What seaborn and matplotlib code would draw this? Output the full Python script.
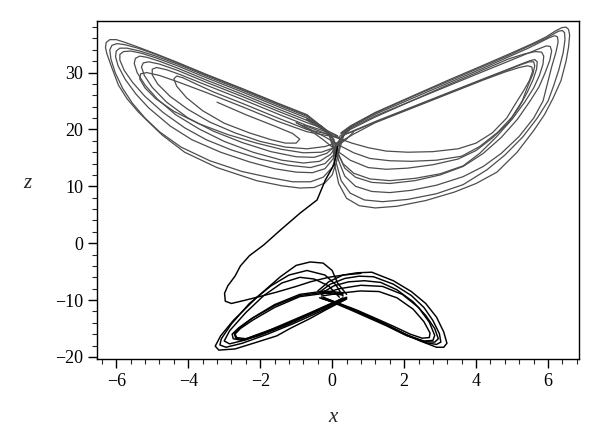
import matplotlib
matplotlib.use("Agg")
import matplotlib.pyplot as plt
import seaborn as sns
from matplotlib.ticker import MultipleLocator

# upper attractor, left wing loops (x, z)
left1_x = [-0.1, -0.35, -0.7, -1.5, -2.5, -3.5, -4.3, -4.9, -5.4, -5.75, -6.0, -6.18, -6.28, -6.3, -6.26, -6.12, -5.94, -5.7, -5.39, -5.05, -4.72, -4.1, -3.2, -2.1, -1.4, -0.9, -0.5, -0.2, 0.0, 0.12, 0.22, 0.32, 0.55]
left1_z = [19.3, 20.8, 22.6, 24.6, 27.2, 29.7, 31.8, 33.3, 34.5, 35.3, 35.8, 35.8, 35.3, 34.4, 33.3, 30.8, 27.8, 25.4, 23.1, 21.0, 19.0, 16.0, 13.3, 11.0, 10.1, 9.7, 9.8, 10.6, 12.0, 14.3, 16.8, 18.9, 20.4]
left2_x = [-0.1, -0.35, -0.7, -1.5, -2.5, -3.5, -4.3, -4.9, -5.35, -5.7, -5.9, -6.0, -6.02, -5.95, -5.75, -5.45, -5.1, -4.5, -3.9, -3.1, -2.3, -1.6, -1.0, -0.55, -0.2, 0.02, 0.15, 0.28, 0.5]
left2_z = [19.3, 20.7, 22.3, 24.3, 26.9, 29.4, 31.5, 32.9, 33.8, 34.3, 34.3, 33.8, 32.8, 31.2, 28.8, 26.2, 23.8, 20.6, 18.2, 16.0, 14.3, 13.1, 12.5, 12.4, 13.1, 14.8, 16.9, 18.8, 20.2]
left3_x = [-0.1, -0.35, -0.7, -1.5, -2.5, -3.5, -4.3, -4.9, -5.3, -5.6, -5.8, -5.9, -5.9, -5.78, -5.55, -5.2, -4.7, -4.1, -3.5, -2.8, -2.0, -1.2, -0.6, -0.2, 0.05, 0.18, 0.3, 0.5]
left3_z = [19.3, 20.5, 22.0, 24.0, 26.6, 29.1, 31.2, 32.6, 33.4, 33.8, 33.7, 33.2, 32.2, 30.4, 28.3, 25.8, 23.0, 20.3, 18.2, 16.4, 14.8, 13.7, 13.3, 14.0, 15.6, 17.4, 19.0, 20.2]
left4_x = [-0.1, -0.35, -0.7, -1.5, -2.5, -3.5, -4.3, -4.8, -5.15, -5.35, -5.47, -5.5, -5.42, -5.2, -4.85, -4.35, -3.7, -3.0, -2.2, -1.4, -0.8, -0.35, -0.05, 0.15, 0.3, 0.5]
left4_z = [19.3, 20.3, 21.6, 23.6, 26.2, 28.7, 30.8, 32.0, 32.7, 32.9, 32.5, 31.6, 30.0, 27.8, 25.3, 22.6, 20.1, 17.9, 16.0, 14.6, 14.1, 14.4, 15.6, 17.3, 19.0, 20.2]
left5_x = [0.15, -0.3, -0.7, -1.5, -2.5, -3.5, -4.3, -4.8, -5.1, -5.25, -5.3, -5.22, -5.0, -4.6, -4.0, -3.3, -2.5, -1.7, -1.0, -0.5, -0.15, 0.1, 0.28, 0.5]
left5_z = [18.9, 20.3, 21.2, 23.2, 25.8, 28.3, 30.4, 31.5, 31.9, 31.7, 31.0, 29.5, 27.4, 24.8, 22.0, 19.7, 17.7, 16.1, 15.2, 15.1, 15.8, 17.2, 18.9, 20.1]
left6_x = [0.15, -0.3, -0.7, -1.5, -2.5, -3.5, -4.2, -4.6, -4.88, -5.0, -5.0, -4.85, -4.5, -4.0, -3.4, -2.7, -2.0, -1.3, -0.7, -0.2, 0.25]
left6_z = [18.8, 19.9, 20.7, 22.7, 25.3, 27.8, 29.6, 30.5, 30.9, 30.6, 29.6, 28.0, 25.8, 23.5, 21.3, 19.4, 17.9, 16.9, 16.6, 17.0, 17.9]
left7_x = [0.2, -0.2, -0.7, -1.5, -2.5, -3.3, -3.85, -4.15, -4.32, -4.4, -4.32, -4.05, -3.6, -3.0, -2.3, -1.7, -1.3, -1.0, -0.9, -1.1, -1.6, -2.4, -3.2]
left7_z = [18.5, 19.3, 20.0, 22.0, 24.6, 26.6, 28.2, 29.1, 29.4, 28.9, 27.6, 25.6, 23.3, 21.1, 19.4, 18.2, 17.6, 17.6, 18.3, 19.3, 20.6, 22.6, 24.8]
left8_x = [-0.1, -0.35, -0.7, -1.5, -2.5, -3.5, -4.3, -4.9, -5.4, -5.75, -5.98, -6.12, -6.18, -6.15, -6.03, -5.82, -5.55, -5.2, -4.8, -4.2, -3.4, -2.5, -1.7, -1.1, -0.6, -0.25, 0.0, 0.15, 0.26, 0.5]
left8_z = [19.3, 20.8, 22.5, 24.5, 27.1, 29.6, 31.7, 33.2, 34.3, 34.9, 35.1, 34.8, 34.0, 32.4, 30.0, 27.2, 24.6, 22.0, 19.6, 16.9, 14.5, 12.6, 11.5, 10.8, 10.8, 11.6, 13.3, 15.8, 18.4, 20.3]
left9_x = [0.2, -0.2, -0.7, -1.5, -2.5, -3.5, -4.3, -4.8, -5.15, -5.32, -5.35, -5.2, -4.9, -4.4, -3.7, -2.9, -2.1, -1.4, -0.8, -0.3, 0.1, 0.4, 0.6]
left9_z = [18.6, 19.0, 19.6, 21.4, 24.0, 26.5, 28.4, 29.5, 30.0, 29.8, 28.9, 27.3, 25.4, 23.2, 21.0, 19.1, 17.6, 16.5, 15.9, 16.0, 16.9, 18.3, 19.6]

# upper attractor, right wing loops
right1_x = [0.25, 0.5, 1.2, 2.2, 3.2, 4.2, 5.0, 5.6, 5.95, 6.2, 6.38, 6.5, 6.57, 6.6, 6.57, 6.5, 6.36, 6.14, 5.9, 5.6, 5.14, 4.58, 4.0, 3.4, 2.6, 1.8, 1.2, 0.75, 0.4, 0.18, 0.07, 0.02, -0.08, -0.3, -0.7]
right1_z = [19.4, 20.6, 23.0, 25.8, 28.6, 31.3, 33.5, 35.2, 36.3, 37.3, 37.9, 38.0, 37.6, 36.6, 34.5, 32.0, 28.6, 25.5, 22.6, 19.8, 16.0, 12.5, 10.5, 9.0, 7.5, 6.5, 6.2, 6.6, 7.9, 10.5, 13.8, 16.8, 18.9, 20.5, 21.9]
right2_x = [0.25, 0.5, 1.2, 2.2, 3.2, 4.2, 5.0, 5.55, 5.9, 6.15, 6.3, 6.4, 6.46, 6.47, 6.42, 6.3, 6.15, 6.0, 5.7, 5.3, 4.8, 4.3, 3.64, 2.9, 2.1, 1.4, 0.9, 0.5, 0.25, 0.12, 0.05, -0.07, -0.3, -0.7]
right2_z = [19.4, 20.5, 22.9, 25.7, 28.4, 31.1, 33.3, 34.9, 35.9, 36.8, 37.3, 37.4, 37.0, 35.8, 33.5, 30.5, 27.6, 25.0, 22.0, 18.7, 15.5, 12.9, 10.3, 8.7, 7.7, 7.3, 7.6, 8.8, 11.0, 14.0, 16.9, 19.0, 20.5, 21.8]
right3_x = [0.25, 0.5, 1.2, 2.2, 3.2, 4.2, 4.95, 5.45, 5.8, 6.02, 6.18, 6.26, 6.28, 6.22, 6.1, 5.98, 5.86, 5.6, 5.2, 4.7, 4.2, 3.64, 2.9, 2.2, 1.6, 1.1, 0.65, 0.35, 0.18, 0.08, -0.05, -0.3, -0.7]
right3_z = [19.3, 20.4, 22.7, 25.4, 28.1, 30.8, 32.9, 34.3, 35.4, 36.1, 36.5, 36.3, 35.4, 33.6, 31.0, 28.0, 25.0, 22.0, 18.8, 15.8, 13.5, 11.7, 10.2, 9.3, 8.9, 9.1, 10.0, 11.8, 14.5, 17.3, 19.2, 20.6, 21.8]
right4_x = [0.25, 0.5, 1.2, 2.2, 3.2, 4.2, 4.9, 5.4, 5.75, 5.95, 6.06, 6.1, 6.05, 5.92, 5.75, 5.5, 5.15, 4.7, 4.2, 3.64, 3.0, 2.3, 1.6, 1.1, 0.65, 0.35, 0.18, 0.08, -0.05, -0.3, -0.7]
right4_z = [19.2, 20.2, 22.4, 25.0, 27.6, 30.2, 32.0, 33.3, 34.2, 34.7, 34.6, 33.8, 32.2, 30.0, 27.5, 25.0, 21.8, 18.6, 15.8, 13.5, 12.0, 11.0, 10.5, 10.7, 11.6, 13.2, 15.5, 17.6, 19.3, 20.6, 21.7]
right5_x = [0.3, 0.6, 1.2, 2.2, 3.2, 4.2, 4.85, 5.25, 5.5, 5.63, 5.7, 5.68, 5.58, 5.42, 5.2, 4.9, 4.45, 4.0, 3.5, 2.8, 2.1, 1.5, 1.0, 0.5, 0.1, -0.25, -0.6, -1.0]
right5_z = [19.0, 19.8, 21.4, 23.9, 26.4, 28.9, 30.5, 31.5, 32.1, 32.3, 31.9, 30.6, 28.7, 26.5, 24.0, 21.2, 18.5, 16.3, 14.8, 13.8, 13.2, 13.0, 13.3, 14.6, 16.4, 18.2, 19.8, 21.2]
right6_x = [0.2, 0.6, 1.2, 2.2, 3.2, 4.2, 4.85, 5.25, 5.48, 5.6, 5.63, 5.58, 5.45, 5.28, 5.0, 4.6, 4.1, 3.6, 2.9, 2.2, 1.6, 1.05, 0.6, 0.2, -0.2, -0.6, -1.0]
right6_z = [18.8, 19.7, 21.3, 23.8, 26.3, 28.8, 30.4, 31.4, 31.9, 31.9, 31.2, 29.8, 27.8, 25.0, 22.2, 19.5, 17.0, 15.3, 14.6, 14.4, 14.5, 14.9, 15.9, 17.2, 18.7, 20.0, 21.2]
right7_x = [0.25, 0.6, 1.2, 2.2, 3.2, 4.2, 4.8, 5.2, 5.43, 5.55, 5.57, 5.48, 5.32, 5.14, 4.85, 4.45, 4.0, 3.5, 2.8, 2.1, 1.5, 1.0, 0.55, 0.1, -0.35, -0.8]
right7_z = [17.9, 19.2, 21.2, 23.7, 26.2, 28.7, 30.1, 30.9, 31.2, 31.0, 30.2, 28.6, 26.8, 25.0, 22.0, 19.4, 17.6, 16.6, 16.1, 16.0, 16.2, 16.8, 17.6, 18.6, 19.7, 20.8]
right8_x = [0.25, 0.5, 1.2, 2.2, 3.2, 4.2, 4.9, 5.35, 5.65, 5.82, 5.88, 5.86, 5.76, 5.6, 5.35, 5.0, 4.55, 4.1, 3.64, 3.0, 2.3, 1.6, 1.05, 0.6, 0.3, 0.13, 0.05, -0.1, -0.35, -0.7]
right8_z = [19.2, 20.0, 22.2, 25.0, 27.8, 30.5, 32.4, 33.3, 33.7, 33.6, 32.9, 31.5, 29.5, 27.3, 24.8, 21.8, 18.6, 15.8, 13.6, 12.2, 11.4, 11.0, 11.3, 12.3, 14.0, 16.3, 18.2, 19.6, 20.8, 21.8]

# transient from the upper attractor down to the lower one
transient_x = [0.15, 0.05, -0.19, -0.42, -0.89, -1.44, -1.9, -2.3, -2.55, -2.7, -2.9, -2.99, -2.97, -2.8, -2.4, -1.9, -1.54, -1.0, -0.61, -0.1, 0.31, 0.8]
transient_z = [17.0, 13.8, 11.1, 7.6, 5.3, 2.3, -0.3, -2.2, -4.0, -5.8, -7.5, -8.8, -10.2, -10.6, -10.0, -9.2, -8.6, -7.6, -6.8, -6.0, -5.6, -5.3]

# lower attractor, left wing loops
lowleft1_x = [0.4, 0.15, 0.0, -0.25, -0.61, -1.0, -1.44, -2.09, -2.75, -3.1, -3.25, -3.15, -2.7, -2.09, -1.54, -1.17, -0.6, -0.2, 0.4]
lowleft1_z = [-9.0, -7.0, -4.8, -3.5, -3.3, -3.9, -5.9, -9.5, -13.6, -16.3, -18.1, -18.8, -18.6, -17.4, -16.3, -15.0, -13.2, -11.8, -9.8]
lowleft2_x = [0.3, 0.1, -0.2, -0.7, -1.2, -1.7, -2.3, -2.8, -3.08, -3.12, -2.95, -2.5, -1.8, -1.1, -0.5, 0.0, 0.4]
lowleft2_z = [-9.3, -7.3, -5.6, -4.8, -5.6, -7.5, -10.6, -14.2, -16.8, -17.9, -18.3, -17.6, -16.0, -14.2, -12.5, -11.0, -9.8]
lowleft3_x = [0.2, -0.1, -0.5, -0.9, -1.4, -1.9, -2.4, -2.85, -3.0, -2.85, -2.4, -1.8, -1.1, -0.5, 0.0, 0.3]
lowleft3_z = [-9.5, -7.5, -6.3, -6.0, -7.0, -9.2, -12.2, -15.4, -17.2, -17.7, -17.0, -15.6, -13.8, -12.0, -10.6, -9.6]
lowleft4_x = [0.3, -0.2, -0.9, -1.6, -2.25, -2.6, -2.78, -2.75, -2.5, -2.1, -1.3, -0.6, 0.0, 0.4]
lowleft4_z = [-8.9, -8.6, -9.2, -11.0, -13.3, -14.9, -16.0, -16.8, -17.1, -16.1, -14.3, -12.4, -10.7, -9.6]
lowleft5_x = [0.3, -0.2, -0.9, -1.6, -2.2, -2.55, -2.7, -2.65, -2.4, -2.0, -1.3, -0.6, 0.0, 0.4]
lowleft5_z = [-9.1, -8.8, -9.4, -11.3, -13.5, -15.0, -16.0, -16.6, -16.8, -16.0, -14.1, -12.2, -10.5, -9.5]
lowleft6_x = [0.3, -0.2, -0.9, -1.6, -2.2, -2.55, -2.72, -2.68, -2.45, -2.05, -1.3, -0.6, 0.0, 0.4]
lowleft6_z = [-8.7, -8.4, -9.0, -10.8, -13.1, -14.8, -15.9, -16.7, -17.0, -16.3, -14.5, -12.5, -10.8, -9.7]

# lower attractor, right wing loops
lowright1_x = [-0.4, -0.1, 0.3, 0.7, 1.1, 1.7, 2.2, 2.6, 2.9, 3.1, 3.19, 3.1, 2.9, 2.45, 1.9, 1.5, 1.0, 0.55, 0.1, -0.35]
lowright1_z = [-8.4, -6.8, -5.6, -5.2, -5.1, -6.6, -8.5, -10.6, -13.0, -15.6, -17.6, -18.3, -18.3, -17.2, -15.6, -14.3, -12.9, -11.5, -10.5, -9.6]
lowright2_x = [-0.35, -0.05, 0.35, 0.75, 1.15, 1.7, 2.2, 2.55, 2.8, 2.98, 3.02, 2.9, 2.6, 2.1, 1.5, 1.0, 0.5, 0.05, -0.3]
lowright2_z = [-8.6, -7.2, -6.2, -5.8, -5.9, -7.2, -9.2, -11.3, -13.6, -15.9, -17.4, -17.8, -17.5, -16.3, -14.4, -12.9, -11.5, -10.4, -9.7]
lowright3_x = [-0.3, 0.2, 0.78, 1.3, 1.8, 2.25, 2.55, 2.72, 2.7, 2.5, 2.17, 1.7, 1.24, 0.7, 0.2, -0.25]
lowright3_z = [-9.3, -8.8, -8.4, -8.5, -9.6, -11.6, -13.8, -15.8, -16.6, -16.7, -16.0, -14.6, -13.3, -11.8, -10.6, -9.6]
lowright4_x = [-0.3, 0.2, 0.8, 1.4, 1.95, 2.4, 2.7, 2.85, 2.8, 2.55, 2.1, 1.6, 1.1, 0.6, 0.15, -0.25]
lowright4_z = [-9.0, -8.0, -7.4, -7.6, -9.0, -11.3, -13.9, -16.2, -17.1, -17.2, -16.2, -14.6, -13.1, -11.7, -10.5, -9.5]
lowright5_x = [-0.3, 0.05, 0.45, 0.9, 1.35, 1.8, 2.25, 2.6, 2.85, 2.95, 2.85, 2.55, 2.05, 1.5, 1.0, 0.5, 0.05, -0.3]
lowright5_z = [-8.8, -7.5, -6.8, -6.6, -6.9, -8.2, -10.3, -12.7, -15.0, -16.8, -17.4, -17.3, -16.2, -14.5, -13.1, -11.7, -10.5, -9.6]

x_ticks = [-6, -4, -2, 0, 2, 4, 6]
z_ticks = [-20, -10, 0, 10, 20, 30]

upper = [(left1_x, left1_z), (left2_x, left2_z), (left3_x, left3_z), (left4_x, left4_z),
         (left5_x, left5_z), (left6_x, left6_z), (left7_x, left7_z), (left8_x, left8_z),
         (left9_x, left9_z),
         (right1_x, right1_z), (right2_x, right2_z), (right3_x, right3_z), (right4_x, right4_z),
         (right5_x, right5_z), (right6_x, right6_z), (right7_x, right7_z), (right8_x, right8_z)]
lower = [(transient_x, transient_z),
         (lowleft1_x, lowleft1_z), (lowleft2_x, lowleft2_z), (lowleft3_x, lowleft3_z),
         (lowleft4_x, lowleft4_z), (lowleft5_x, lowleft5_z), (lowleft6_x, lowleft6_z),
         (lowright1_x, lowright1_z), (lowright2_x, lowright2_z), (lowright3_x, lowright3_z),
         (lowright4_x, lowright4_z), (lowright5_x, lowright5_z)]

sns.set_theme(style="ticks")
plt.rcParams['font.family'] = ['Liberation Serif', 'DejaVu Serif']

fig = plt.figure(figsize=(6, 4.44), dpi=100)
ax = fig.add_axes([0.162, 0.191, 0.803, 0.762])

for xs, zs in upper:
    sns.lineplot(x=xs, y=zs, sort=False, estimator=None, ax=ax, color='#4d4d4d', lw=0.9)
for xs, zs in lower:
    sns.lineplot(x=xs, y=zs, sort=False, estimator=None, ax=ax, color='black', lw=1.05)

ax.set_xlim(-6.53, 6.86)
ax.set_ylim(-20.4, 39.1)
ax.set_xticks(x_ticks)
ax.set_yticks(z_ticks)
ax.xaxis.set_minor_locator(MultipleLocator(0.4))
ax.yaxis.set_minor_locator(MultipleLocator(2))
ax.tick_params(which='major', direction='out', length=6.5, width=1, labelsize=13, colors='black')
ax.tick_params(which='minor', direction='out', length=3.5, width=0.8)
ax.tick_params(top=False, right=False, which='both')
for s in ax.spines.values():
    s.set_visible(True)
    s.set_color('black')
    s.set_linewidth(1.0)

ax.set_xlabel('x', fontstyle='italic', fontsize=15)
ax.set_ylabel('z', fontstyle='italic', fontsize=15, rotation=0)
ax.xaxis.set_label_coords(0.49, -0.145)
ax.yaxis.set_label_coords(-0.145, 0.49)

fig.savefig('out.png', dpi=100)
